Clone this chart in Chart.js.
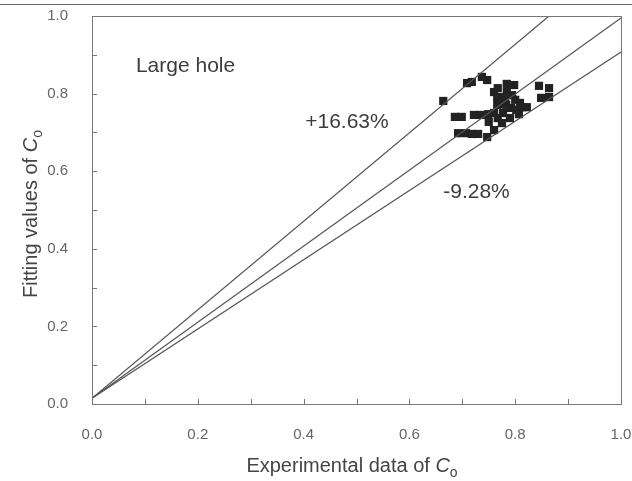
<!DOCTYPE html>
<html>
<head>
<meta charset="utf-8">
<script src="https://cdn.jsdelivr.net/npm/chart.js@4.4.0/dist/chart.umd.min.js"></script>
<style>
  html, body { margin: 0; padding: 0; background: #fff; }
  #wrap { width: 632px; height: 481px; }
</style>
</head>
<body>
<div id="wrap"><canvas id="myChart" width="632" height="481"></canvas></div>
<script>
// measured points (experimental, fitted)
var expData = [0.664,0.709,0.718,0.737,0.747,0.686,0.699,0.722,0.735,0.749,0.760,0.692,0.707,0.718,0.730,0.747,0.760,
               0.766,0.766,0.773,0.777,0.784,0.798,0.784,0.794,0.800,0.809,0.783,0.792,0.802,0.813,0.790,0.807,0.822,
               0.845,0.864,0.864,0.849,0.767,0.775,0.750,0.760,0.767,0.771,0.781];
var fitData = [0.781,0.827,0.830,0.843,0.835,0.740,0.740,0.745,0.745,0.747,0.750,0.698,0.698,0.696,0.696,0.688,0.706,
               0.791,0.771,0.784,0.750,0.825,0.822,0.804,0.796,0.784,0.776,0.771,0.763,0.758,0.765,0.737,0.747,0.765,
               0.820,0.814,0.791,0.789,0.737,0.724,0.727,0.804,0.814,0.773,0.791];

// reference lines
var upperLineX = [0, 0.864];
var upperLineY = [0.015, 1.0];
var midLineX = [0, 1.0];
var midLineY = [0.015, 0.995];
var lowerLineX = [0, 1.0];
var lowerLineY = [0.015, 0.907];

var tickLabels = ['0.0','0.2','0.4','0.6','0.8','1.0'];

function pts(xs, ys){
    var out = [];
    for (var i = 0; i < xs.length; i++) out.push({x: xs[i], y: ys[i]});
    return out;
}

var lineStyle = {type:'line', showLine:true, borderColor:'#555', borderWidth:1.2, pointRadius:0, fill:false};

var decor = {
    id: 'decor',
    afterDraw: function(chart){
        var c = chart.ctx, a = chart.chartArea;
        var xs = chart.scales.x, ys = chart.scales.y;
        c.save();
        // top rule of page
        c.strokeStyle = '#666'; c.lineWidth = 1;
        c.beginPath(); c.moveTo(0, 4.5); c.lineTo(632, 4.5); c.stroke();
        // box
        c.strokeStyle = '#777';
        c.strokeRect(a.left + 0.5, a.top + 0.5, a.right - a.left, a.bottom - a.top);
        // inward ticks every 0.1
        c.beginPath();
        for (var v = 0; v <= 10; v++){
            var px = Math.round(xs.getPixelForValue(v/10)) + 0.5;
            c.moveTo(px, a.bottom); c.lineTo(px, a.bottom - 5);
            var py = Math.round(ys.getPixelForValue(v/10)) + 0.5;
            c.moveTo(a.left, py); c.lineTo(a.left + 5, py);
        }
        c.stroke();
        // annotations
        c.fillStyle = '#3c3c3c';
        c.font = '21px "Liberation Sans", Arial, sans-serif';
        c.textBaseline = 'middle';
        c.textAlign = 'left';
        c.fillText('Large hole', xs.getPixelForValue(0.083), ys.getPixelForValue(0.871));
        c.fillText('+16.63%', xs.getPixelForValue(0.403), ys.getPixelForValue(0.727));
        c.fillText('-9.28%', xs.getPixelForValue(0.664), ys.getPixelForValue(0.546));
        // axis titles with subscript
        c.fillStyle = '#444';
        c.textBaseline = 'alphabetic';
        var main = '20px "Liberation Sans", Arial, sans-serif';
        var ital = 'italic 20px "Liberation Sans", Arial, sans-serif';
        var sub = '14px "Liberation Sans", Arial, sans-serif';
        function title(x, y, t1){
            c.font = main; var w1 = c.measureText(t1).width;
            c.font = ital; var w2 = c.measureText('C').width;
            c.font = sub; var w3 = c.measureText('o').width;
            var sx = x - (w1 + w2 + w3) / 2;
            c.font = main; c.fillText(t1, sx, y);
            c.font = ital; c.fillText('C', sx + w1, y);
            c.font = sub; c.fillText('o', sx + w1 + w2, y + 5);
        }
        title(352, 472, 'Experimental data of ');
        c.translate(37, 214);
        c.rotate(-Math.PI/2);
        title(0, 0, 'Fitting values of ');
        c.restore();
    }
};

var ctx = document.getElementById('myChart').getContext('2d');
var myChart = new Chart(ctx, {
    type: 'scatter',
    data: {
        datasets: [
            Object.assign({data: pts(upperLineX, upperLineY)}, lineStyle),
            Object.assign({data: pts(midLineX, midLineY)}, lineStyle),
            Object.assign({data: pts(lowerLineX, lowerLineY)}, lineStyle),
            {
                data: pts(expData, fitData),
                pointStyle: 'rect',
                pointRadius: 5.8,
                backgroundColor: '#222',
                borderColor: '#222',
                borderWidth: 0
            }
        ]
    },
    options: {
        responsive: false,
        animation: false,
        layout: {padding: {top: 16, right: 11, left: 0, bottom: 0}},
        plugins: {legend: {display: false}, tooltip: {enabled: false}},
        scales: {
            x: {
                type: 'linear', min: 0, max: 1,
                border: {display: false},
                grid: {display: false},
                afterFit: function(s){ s.height = 77; s.paddingLeft = 0; s.paddingRight = 0; },
                afterBuildTicks: function(s){ s.ticks = tickLabels.map(function(t){ return {value: parseFloat(t)}; }); },
                ticks: {
                    color: '#666', padding: 14, maxRotation: 0,
                    font: {family: '"Liberation Sans", Arial, sans-serif', size: 15},
                    callback: function(v){ return v.toFixed(1); }
                }
            },
            y: {
                type: 'linear', min: 0, max: 1,
                border: {display: false},
                grid: {display: false},
                afterFit: function(s){ s.width = 92; s.paddingTop = 0; s.paddingBottom = 0; },
                afterBuildTicks: function(s){ s.ticks = tickLabels.map(function(t){ return {value: parseFloat(t)}; }); },
                ticks: {
                    color: '#666', padding: 16,
                    font: {family: '"Liberation Sans", Arial, sans-serif', size: 15},
                    callback: function(v){ return v.toFixed(1); }
                }
            }
        }
    },
    plugins: [decor]
});
</script>
</body>
</html>
